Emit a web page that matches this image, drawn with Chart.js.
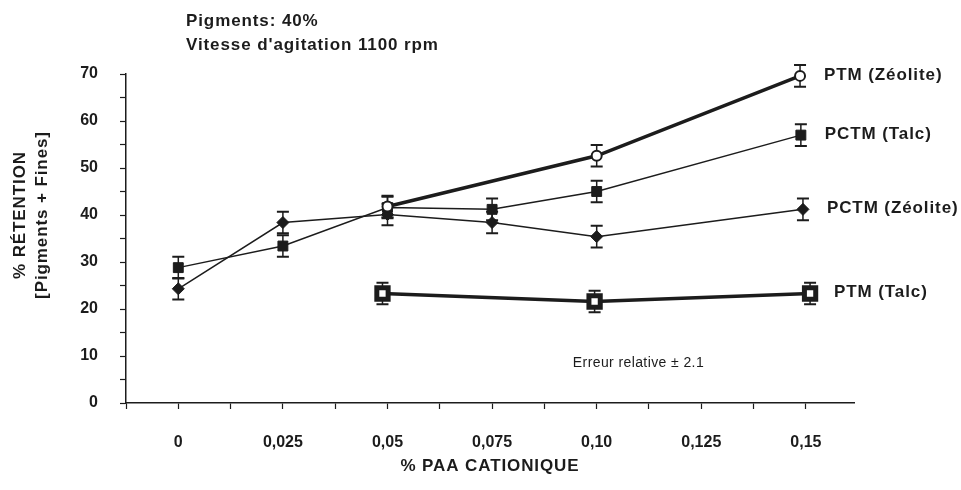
<!DOCTYPE html>
<html>
<head>
<meta charset="utf-8">
<script src="https://cdn.jsdelivr.net/npm/chart.js@4.4.0/dist/chart.umd.min.js"></script>
<style>
  html, body { margin: 0; padding: 0; background: #fff; }
</style>
</head>
<body>
<canvas id="chart" width="961" height="490"></canvas>
<script>
// --- Data ---
const seriesNames = ['PTM (Zéolite)', 'PCTM (Talc)', 'PCTM (Zéolite)', 'PTM (Talc)'];

const ptmZeoliteX = [0.05, 0.10, 0.1486];
const ptmZeoliteY = [41.8, 52.6, 69.6];

const pctmTalcX = [0, 0.025, 0.05, 0.075, 0.10, 0.1488];
const pctmTalcY = [28.8, 33.4, 41.6, 41.2, 45.0, 57.0];

const pctmZeoliteX = [0, 0.025, 0.05, 0.075, 0.10, 0.1493];
const pctmZeoliteY = [24.3, 38.4, 40.1, 38.4, 35.4, 41.2];

const ptmTalcX = [0.0488, 0.0995, 0.151];
const ptmTalcY = [23.3, 21.6, 23.3];

const errorBar = 2.3;

const xTickLabels = ['0', '0,025', '0,05', '0,075', '0,10', '0,125', '0,15'];
const yTickLabels = ['0', '10', '20', '30', '40', '50', '60', '70'];

const titleLines = ['Pigments: 40%', "Vitesse d'agitation 1100 rpm"];
const yTitleLines = ['% RÉTENTION', '[Pigments + Fines]'];
const xTitle = '% PAA CATIONIQUE';
const errorNote = 'Erreur relative ± 2.1';

// --- Helpers ---
const FONT = "'Liberation Sans', Arial, sans-serif";
const INK = '#1c1c1c';

function toPoints(xs, ys) {
    return xs.map((x, i) => ({ x: x, y: ys[i] }));
}

// error bars behind the markers
const errorBarPlugin = {
    id: 'errorBars',
    beforeDatasetsDraw(chart) {
        const ctx = chart.ctx;
        const yScale = chart.scales.y;
        ctx.save();
        ctx.strokeStyle = INK;
        chart.data.datasets.forEach((ds, i) => {
            const meta = chart.getDatasetMeta(i);
            meta.data.forEach((pt, j) => {
                const v = ds.data[j].y;
                const top = yScale.getPixelForValue(v + errorBar);
                const bot = yScale.getPixelForValue(v - errorBar);
                ctx.lineWidth = 1.5;
                ctx.beginPath();
                ctx.moveTo(pt.x, top);
                ctx.lineTo(pt.x, bot);
                ctx.stroke();
                ctx.lineWidth = 2;
                ctx.beginPath();
                ctx.moveTo(pt.x - 6, top);
                ctx.lineTo(pt.x + 6, top);
                ctx.moveTo(pt.x - 6, bot);
                ctx.lineTo(pt.x + 6, bot);
                ctx.stroke();
            });
        });
        ctx.restore();
    }
};

// texts: heading, axis titles, series names, note
const textPlugin = {
    id: 'texts',
    afterDraw(chart) {
        const ctx = chart.ctx;
        const area = chart.chartArea;
        const xs = chart.scales.x;
        const ys = chart.scales.y;
        ctx.save();
        ctx.fillStyle = INK;
        ctx.textBaseline = 'middle';
        ctx.font = 'bold 17px ' + FONT;
        ctx.letterSpacing = '0.9px';

        // heading
        ctx.textAlign = 'left';
        ctx.fillText(titleLines[0], 186, 21);
        ctx.fillText(titleLines[1], 186, 45);

        // series names next to the last point
        chart.data.datasets.forEach((ds, i) => {
            const meta = chart.getDatasetMeta(i);
            const last = meta.data[meta.data.length - 1];
            ctx.fillText(seriesNames[i], last.x + 24, last.y - 1);
        });

        // x title
        ctx.textAlign = 'center';
        ctx.fillText(xTitle, (area.left + area.right) / 2, 466);

        // y title
        ctx.save();
        ctx.translate(20, 215);
        ctx.rotate(-Math.PI / 2);
        ctx.fillText(yTitleLines[0], 0, 0);
        ctx.fillText(yTitleLines[1], 0, 22);
        ctx.restore();

        // note
        ctx.font = '14px ' + FONT;
        ctx.letterSpacing = '0.4px';
        ctx.textAlign = 'left';
        ctx.fillText(errorNote, xs.getPixelForValue(0.0943), ys.getPixelForValue(8.5));
        ctx.restore();
    }
};

// --- Chart ---
const ctx = document.getElementById('chart').getContext('2d');
const chart = new Chart(ctx, {
    type: 'line',
    data: {
        datasets: [
            {
                label: seriesNames[0],
                data: toPoints(ptmZeoliteX, ptmZeoliteY),
                clip: false,
                borderColor: INK,
                borderWidth: 3.5,
                pointStyle: 'circle',
                pointRadius: 5,
                pointBorderWidth: 2,
                pointBorderColor: INK,
                pointBackgroundColor: '#fff'
            },
            {
                label: seriesNames[1],
                data: toPoints(pctmTalcX, pctmTalcY),
                clip: false,
                borderColor: INK,
                borderWidth: 1.5,
                pointStyle: 'rect',
                pointRadius: 7,
                pointBorderWidth: 1,
                pointBorderColor: INK,
                pointBackgroundColor: INK
            },
            {
                label: seriesNames[2],
                data: toPoints(pctmZeoliteX, pctmZeoliteY),
                clip: false,
                borderColor: INK,
                borderWidth: 1.5,
                pointStyle: 'rectRot',
                pointRadius: 6,
                pointBorderWidth: 1,
                pointBorderColor: INK,
                pointBackgroundColor: INK
            },
            {
                label: seriesNames[3],
                data: toPoints(ptmTalcX, ptmTalcY),
                clip: false,
                borderColor: INK,
                borderWidth: 3.5,
                pointStyle: 'rect',
                pointRadius: 8,
                pointBorderWidth: 5,
                pointBorderColor: INK,
                pointBackgroundColor: '#fff'
            }
        ]
    },
    options: {
        responsive: false,
        animation: false,
        devicePixelRatio: 1,
        layout: { padding: { top: 74, right: 107, left: 0, bottom: 0 } },
        plugins: {
            legend: { display: false },
            tooltip: { enabled: false }
        },
        elements: { line: { tension: 0 } },
        scales: {
            x: {
                type: 'linear',
                min: -0.0125,
                max: 0.1615,
                afterBuildTicks(scale) {
                    const t = [];
                    for (let k = -1; k <= 12; k++) t.push({ value: k * 0.0125 });
                    scale.ticks = t;
                },
                afterFit(scale) { scale.height = 87; },
                grid: {
                    drawOnChartArea: false,
                    drawTicks: true,
                    tickLength: 6,
                    tickColor: INK,
                    tickWidth: 1.2
                },
                border: { display: true, color: INK, width: 1.5 },
                ticks: {
                    autoSkip: false,
                    maxRotation: 0,
                    padding: 24,
                    color: INK,
                    font: { family: FONT, size: 16, weight: 'bold' },
                    callback(v) {
                        const k = Math.round(v / 0.0125);
                        if (k < 0 || k % 2 !== 0) return '';
                        return xTickLabels[k / 2] || '';
                    }
                }
            },
            y: {
                min: 0,
                max: 70,
                afterFit(scale) { scale.width = 126; },
                grid: {
                    drawOnChartArea: false,
                    drawTicks: true,
                    tickLength: 6,
                    tickColor: INK,
                    tickWidth: 1.2
                },
                border: { display: true, color: INK, width: 1.5 },
                ticks: {
                    stepSize: 5,
                    autoSkip: false,
                    padding: 22,
                    color: INK,
                    font: { family: FONT, size: 16, weight: 'bold' },
                    callback(v) {
                        if (v % 10 !== 0) return '';
                        return yTickLabels[v / 10] || '';
                    }
                }
            }
        }
    },
    plugins: [errorBarPlugin, textPlugin]
});
</script>
</body>
</html>
